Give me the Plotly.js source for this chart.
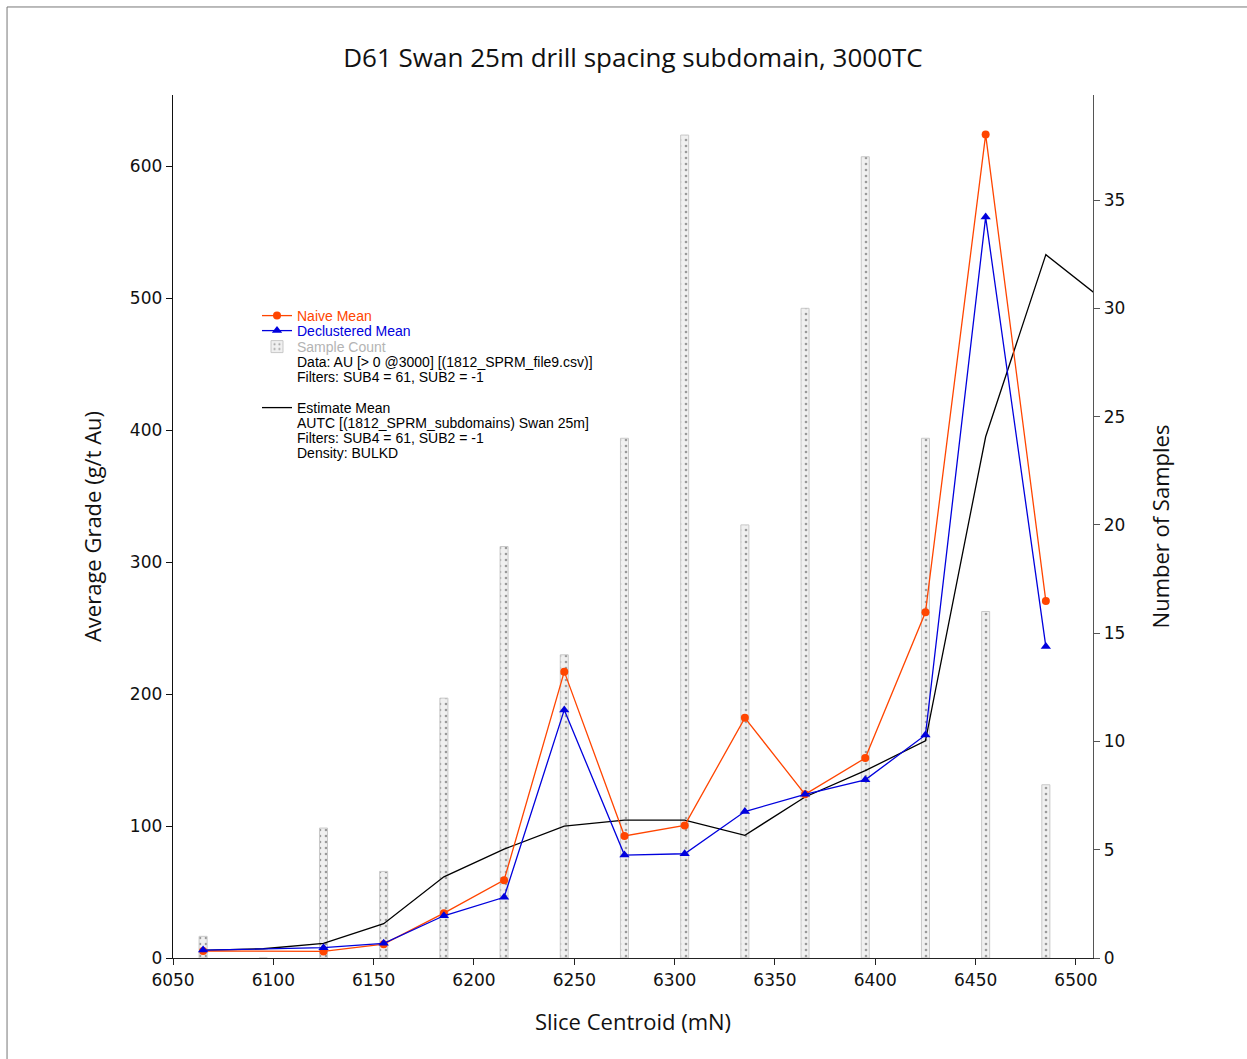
<!DOCTYPE html>
<html>
<head>
<meta charset="utf-8">
<script src="https://cdn.plot.ly/plotly-3.0.1.min.js"></script>
<style>html,body{margin:0;padding:0;background:#fff;}#chart{width:1247px;height:1059px;}</style>
</head>
<body>
<div id="chart"></div>
<script>
// Slice centroids (mN)
const countSlices = [6065, 6095, 6125, 6155, 6185, 6215, 6245, 6275, 6305, 6335, 6365, 6395, 6425, 6455, 6485];
const sampleCount = [1, 0, 6, 4, 12, 19, 14, 24, 38, 20, 30, 37, 24, 16, 8];

const meanSlices = [6065, 6125, 6155, 6185, 6215, 6245, 6275, 6305, 6335, 6365, 6395, 6425, 6455, 6485];
const naiveMean = [5.3, 5, 10.5, 34, 59, 217, 92.5, 100.5, 182, 124, 151.5, 262, 624, 270.5];
const declusteredMean = [6, 7.8, 11.1, 32, 46, 188, 78, 79, 111, 124, 135, 169, 561.5, 236];

const estimateSlices = [6065, 6095, 6125, 6155, 6185, 6215, 6245, 6275, 6305, 6335, 6365, 6395, 6425, 6455, 6485, 6515];
const estimateMean = [5.8, 7, 11, 26, 61.5, 82.5, 100, 104.5, 104.5, 93, 122, 142, 164.5, 395, 533, 497];

const titleText = 'D61 Swan 25m drill spacing subdomain, 3000TC';
const xTitle = 'Slice Centroid (mN)';
const yTitle = 'Average Grade (g/t Au)';
const y2Title = 'Number of Samples';

const seriesNames = ['Naive Mean', 'Declustered Mean', 'Sample Count', 'Estimate Mean'];
const sampleInfoLines = ['Data: AU [> 0 @3000] [(1812_SPRM_file9.csv)]', 'Filters: SUB4 = 61, SUB2 = -1'];
const estimateInfoLines = ['AUTC [(1812_SPRM_subdomains) Swan 25m]', 'Filters: SUB4 = 61, SUB2 = -1', 'Density: BULKD'];

const naiveColor = '#ff4500', declColor = '#0000dd', countTextColor = '#b4b4b4';

const traces = [
  {
    type: 'bar', x: countSlices, y: sampleCount, yaxis: 'y', width: 4,
    name: seriesNames[2], legend: 'legend3',
    marker: {color: '#f0f0f0', line: {color: '#c8c8c8', width: 1},
             pattern: {shape: '.', fgcolor: '#9a9a9a', bgcolor: '#f0f0f0', size: 6, solidity: 0.15}}
  },
  {
    type: 'scatter', mode: 'lines', x: estimateSlices, y: estimateMean, yaxis: 'y2',
    name: seriesNames[3], legend: 'legend4',
    line: {color: '#000000', width: 1.3}
  },
  {
    type: 'scatter', mode: 'lines+markers', x: meanSlices, y: naiveMean, yaxis: 'y2',
    name: seriesNames[0], legend: 'legend',
    line: {color: naiveColor, width: 1.3},
    marker: {symbol: 'circle', size: 8, color: naiveColor}
  },
  {
    type: 'scatter', mode: 'lines+markers', x: meanSlices, y: declusteredMean, yaxis: 'y2',
    name: seriesNames[1], legend: 'legend2',
    line: {color: declColor, width: 1.3},
    marker: {symbol: 'triangle-up', size: 9, color: declColor}
  }
];

const tickFont = {family: 'DejaVu Sans', size: 17, color: '#111'};
const titleFont = {family: 'Open Sans', size: 22, color: '#111'};

// plot area geometry in px (for placing legend boxes / text in paper space)
const plotTop = 95, plotBottom = 958, plotLeft = 173, plotWidth = 920;
const py = (p) => (plotBottom - p) / (plotBottom - plotTop);
const px = (p) => (p - plotLeft) / plotWidth;

const legendFont = (c) => ({family: 'Liberation Sans', size: 14, color: c});
const mkLegend = (ypx, color) => ({
  x: px(257), y: py(ypx), xanchor: 'left', yanchor: 'middle',
  bgcolor: 'rgba(0,0,0,0)', borderwidth: 0, font: legendFont(color), itemwidth: 30
});

const textLine = (t, ypx) => ({
  xref: 'paper', yref: 'paper', x: px(295), y: py(ypx), xanchor: 'left', yanchor: 'middle',
  text: t.replace(/>/g, '&gt;'), showarrow: false, font: legendFont('#000'), align: 'left'
});

const layout = {
  width: 1247, height: 1059,
  margin: {l: 173, r: 154, t: 95, b: 101},
  paper_bgcolor: '#ffffff', plot_bgcolor: '#ffffff',
  showlegend: true,
  bargap: 0,
  title: {text: titleText, font: {family: 'Open Sans', size: 26, color: '#111'},
          x: 0.5, xref: 'paper', xanchor: 'center', y: 0.945, yref: 'container', yanchor: 'middle'},
  xaxis: {
    range: [6050, 6508.5], tickvals: [6050, 6100, 6150, 6200, 6250, 6300, 6350, 6400, 6450, 6500],
    showgrid: false, zeroline: false, showline: true, linecolor: '#222', linewidth: 1.3,
    ticks: 'outside', ticklen: 6, tickcolor: '#222', tickfont: tickFont,
    title: {text: xTitle, font: titleFont, standoff: 26}
  },
  yaxis: {
    range: [0, 39.85], side: 'right', tickvals: [0, 5, 10, 15, 20, 25, 30, 35],
    showgrid: false, zeroline: false, showline: true, linecolor: '#555', linewidth: 1.3,
    ticks: 'outside', ticklen: 6, tickcolor: '#555', tickfont: tickFont,
    title: {text: y2Title, font: titleFont, standoff: 29}
  },
  yaxis2: {
    range: [0, 654], overlaying: 'y', side: 'left', anchor: 'x',
    tickvals: [0, 100, 200, 300, 400, 500, 600],
    showgrid: false, zeroline: false, showline: true, linecolor: '#111', linewidth: 1.3,
    ticks: 'outside', ticklen: 6, tickcolor: '#111', tickfont: tickFont,
    title: {text: yTitle, font: titleFont, standoff: 22}
  },
  legend: mkLegend(316, naiveColor),
  legend2: mkLegend(331, declColor),
  legend3: mkLegend(347, countTextColor),
  legend4: mkLegend(408, '#000'),
  annotations: [
    textLine(sampleInfoLines[0], 362),
    textLine(sampleInfoLines[1], 377),
    textLine(estimateInfoLines[0], 423),
    textLine(estimateInfoLines[1], 438),
    textLine(estimateInfoLines[2], 453)
  ],
  shapes: [
    {type: 'rect', xref: 'paper', yref: 'paper', x0: -0.1804, x1: 1.19, y0: -0.14, y1: 1.102,
     line: {color: '#777', width: 1}, fillcolor: 'rgba(0,0,0,0)', layer: 'below'}
  ]
};

Plotly.newPlot('chart', traces, layout, {displayModeBar: false, staticPlot: true});
</script>
</body>
</html>
